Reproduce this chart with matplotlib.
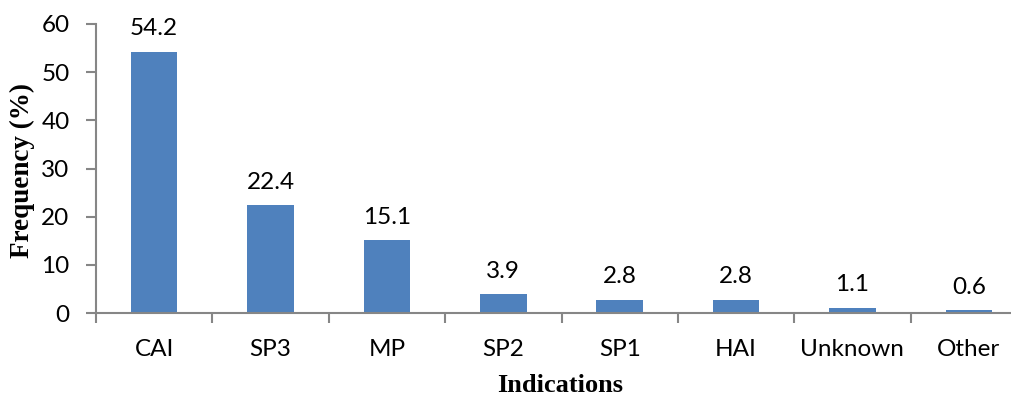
import numpy as np
import matplotlib
matplotlib.use('Agg')
import matplotlib.pyplot as plt

categories = ['CAI', 'SP3', 'MP', 'SP2', 'SP1', 'HAI', 'Unknown', 'Other']
frequency = [54.2, 22.4, 15.1, 3.9, 2.8, 2.8, 1.1, 0.6]
y_ticks = [0, 10, 20, 30, 40, 50, 60]

BAR_COLOR = '#4F81BD'
AXIS_COLOR = '#868686'
TICK_FONT = 'Lato'
TICK_SIZE = 17.5

fig = plt.figure(figsize=(10.12, 3.97), dpi=100)
# axes run a little past the right edge, like the exported chart
ax = fig.add_axes([96 / 1012, 1 - 313 / 397, 931 / 1012, 289 / 397])

x = np.arange(len(categories))
ax.bar(x, frequency, width=0.4, color=BAR_COLOR, zorder=2)

for xi, v in zip(x, frequency):
    ax.annotate(f'{v:.1f}', (xi, v), xytext=(0, 9), textcoords='offset points',
                ha='center', va='bottom', fontsize=TICK_SIZE, family=TICK_FONT)

ax.set_xlim(-0.5, len(categories) - 0.5)
ax.set_ylim(0, 60)
ax.set_yticks(y_ticks)
ax.set_yticklabels([str(t) for t in y_ticks], fontsize=TICK_SIZE, family=TICK_FONT)

# category labels centred, tick marks between categories
ax.set_xticks(x)
ax.set_xticklabels(categories, fontsize=TICK_SIZE, family=TICK_FONT)
ax.tick_params(axis='x', length=0, pad=19)
ax.set_xticks(np.arange(len(categories) + 1) - 0.5, minor=True)
ax.tick_params(axis='x', which='minor', length=7, width=1.5, color=AXIS_COLOR, direction='out')
ax.tick_params(axis='y', length=7, width=1.5, color=AXIS_COLOR, pad=12)

for side in ['top', 'right']:
    ax.spines[side].set_visible(False)
for side in ['left', 'bottom']:
    ax.spines[side].set_color(AXIS_COLOR)
    ax.spines[side].set_linewidth(1.5)

fig.text(22 / 1012, 1 - 170 / 397, 'Frequency (%)', fontsize=19.5, fontweight='bold',
         family='Liberation Serif', ha='center', va='center', rotation=90)
fig.text(560 / 1012, 1 - 385 / 397, 'Indications', fontsize=19, fontweight='bold',
         family='Liberation Serif', ha='center', va='center')

plt.savefig('out.png', dpi=100)
